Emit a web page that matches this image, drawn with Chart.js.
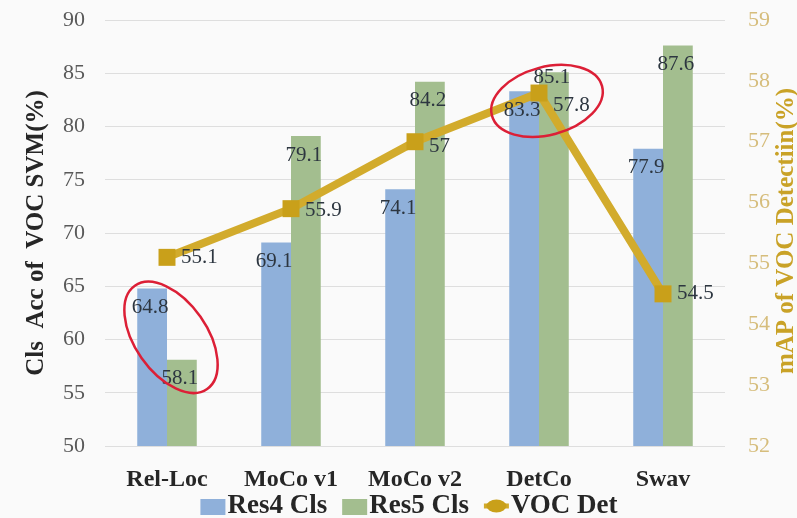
<!DOCTYPE html>
<html>
<head>
<meta charset="utf-8">
<style>
  html, body { margin: 0; padding: 0; background: #fafafa; }
  #wrap { width: 797px; height: 518px; }
</style>
<script src="https://cdn.jsdelivr.net/npm/chart.js@4.4.0/dist/chart.umd.min.js"></script>
</head>
<body>
<div id="wrap"><canvas id="c" width="797" height="518"></canvas></div>
<script>
// Methods and their scores
const categories = ['Rel-Loc', 'MoCo v1', 'MoCo v2', 'DetCo', 'Swav'];
const res4Cls = [64.8, 69.1, 74.1, 83.3, 77.9];   // Cls Acc of VOC SVM (%)
const res5Cls = [58.1, 79.1, 84.2, 85.1, 87.6];   // Cls Acc of VOC SVM (%)
const vocDet  = [55.1, 55.9, 57, 57.8, 54.5];     // mAP of VOC detection (%)

// Axis ranges and tick steps
const leftTicks  = { min: 50, max: 90, step: 5 };
const rightTicks = { min: 52, max: 59, step: 1 };

// Colours
const blue = '#8fb0da';
const green = '#a3be8f';
const gold = '#d2ab2c';
const goldMarker = '#c9a01a';
const serif = '"Liberation Serif", "DejaVu Serif", serif';

// Vertical placement of the value labels (px below the bar top / beside the point)
const res4LabelDrop = [19, 19, 19, 19, 19];
const res5LabelDrop = [19, 19, 19, 5, 19];
const lineLabelDrop = [0, 2, 5, 12, 0];

// Red highlight rings: category index, x nudge, value on left axis, radii, tilt
const rings = [
  { cat: 0, dx: 4, val: 60.2, a: 63, b: 36, tilt: 55 },
  { cat: 3, dx: 8, val: 82.4, a: 57, b: 34, tilt: -15 }
];

const valueLabels = {
  id: 'valueLabels',
  afterDatasetsDraw(chart) {
    const ctx = chart.ctx;
    ctx.save();
    ctx.font = '21px ' + serif;
    ctx.fillStyle = '#2d3640';
    ctx.textBaseline = 'middle';
    ctx.textAlign = 'center';
    [[0, res4LabelDrop], [1, res5LabelDrop]].forEach(([di, drop]) => {
      chart.getDatasetMeta(di).data.forEach((bar, i) => {
        ctx.fillText(String(chart.data.datasets[di].data[i]), bar.x - 2, bar.y + drop[i]);
      });
    });
    ctx.textAlign = 'left';
    chart.getDatasetMeta(2).data.forEach((pt, i) => {
      ctx.fillText(String(chart.data.datasets[2].data[i]), pt.x + 14, pt.y + lineLabelDrop[i]);
    });
    ctx.restore();
  }
};

const highlightRings = {
  id: 'highlightRings',
  afterDraw(chart) {
    const ctx = chart.ctx;
    const xs = chart.scales.x, ys = chart.scales.y;
    ctx.save();
    ctx.strokeStyle = '#dc1f36';
    ctx.lineWidth = 2.5;
    rings.forEach(r => {
      const cx = xs.getPixelForValue(r.cat) + r.dx;
      const cy = ys.getPixelForValue(r.val);
      ctx.beginPath();
      ctx.ellipse(cx, cy, r.a, r.b, r.tilt * Math.PI / 180, 0, Math.PI * 2);
      ctx.stroke();
    });
    ctx.restore();
  }
};

// Right-hand axis title, reading bottom to top like the left one
const rightTitle = {
  id: 'rightTitle',
  afterDraw(chart) {
    const ctx = chart.ctx;
    const area = chart.chartArea;
    ctx.save();
    ctx.translate(787, (area.top + area.bottom) / 2 - 2);
    ctx.rotate(-Math.PI / 2);
    ctx.font = 'bold 25px ' + serif;
    ctx.fillStyle = '#c9a227';
    ctx.textAlign = 'center';
    ctx.textBaseline = 'middle';
    ctx.fillText('mAP of VOC Detectiin(%)', 0, 0);
    ctx.restore();
  }
};

// Single-row legend under the category labels: swatch right next to its text
const legendRow = {
  id: 'legendRow',
  afterDraw(chart) {
    const ctx = chart.ctx;
    const centerX = 409, y = 506;
    const swatchW = 25, swatchH = 16, textGap = 2, itemGap = 15;
    ctx.save();
    ctx.font = 'bold 27px ' + serif;
    ctx.textBaseline = 'middle';
    ctx.textAlign = 'left';
    const items = chart.data.datasets.map(ds => ({
      text: ds.label, color: ds.backgroundColor, isLine: ds.type === 'line'
    }));
    const widths = items.map(it => swatchW + textGap + ctx.measureText(it.text).width);
    const total = widths.reduce((a, b) => a + b, 0) + itemGap * (items.length - 1);
    let x = centerX - total / 2;
    items.forEach((it, i) => {
      if (it.isLine) {
        ctx.strokeStyle = it.color;
        ctx.lineWidth = 5;
        ctx.beginPath();
        ctx.moveTo(x, y);
        ctx.lineTo(x + swatchW, y);
        ctx.stroke();
        ctx.fillStyle = goldMarker;
        ctx.beginPath();
        ctx.ellipse(x + swatchW / 2, y, 10, 6.5, 0, 0, Math.PI * 2);
        ctx.fill();
      } else {
        ctx.fillStyle = it.color;
        ctx.fillRect(x, y - swatchH / 2 + 1, swatchW, swatchH);
      }
      ctx.fillStyle = '#262626';
      ctx.fillText(it.text, x + swatchW + textGap, y);
      x += widths[i] + itemGap;
    });
    ctx.restore();
  }
};

// Vertical axes: fixed width, and no extra top/bottom padding from the tick labels
function fixVertical(width) {
  return s => { s.width = width; s.paddingTop = 0; s.paddingBottom = 0; };
}

new Chart(document.getElementById('c'), {
  data: {
    labels: categories,
    datasets: [
      {
        type: 'bar', label: 'Res4 Cls', data: res4Cls, yAxisID: 'y',
        backgroundColor: blue, borderWidth: 0, order: 1,
        categoryPercentage: 0.48, barPercentage: 1.0
      },
      {
        type: 'bar', label: 'Res5 Cls', data: res5Cls, yAxisID: 'y',
        backgroundColor: green, borderWidth: 0, order: 1,
        categoryPercentage: 0.48, barPercentage: 1.0
      },
      {
        type: 'line', label: 'VOC Det', data: vocDet, yAxisID: 'y1',
        borderColor: gold, backgroundColor: gold, borderWidth: 8, order: 0,
        pointStyle: 'rect', pointRadius: 12, pointHoverRadius: 12,
        pointBackgroundColor: goldMarker, pointBorderWidth: 0, tension: 0
      }
    ]
  },
  options: {
    responsive: false,
    animation: false,
    devicePixelRatio: 1,
    layout: { padding: { top: 20, left: 10, right: 0, bottom: 25 } },
    plugins: {
      tooltip: { enabled: false },
      legend: { display: false }
    },
    scales: {
      x: {
        grid: { display: false },
        border: { display: false },
        ticks: { font: { family: serif, size: 24, weight: 'bold' }, color: '#262626', padding: 11 },
        afterFit(s) { s.height = 47; }
      },
      y: {
        position: 'left',
        min: leftTicks.min, max: leftTicks.max,
        ticks: { stepSize: leftTicks.step, font: { family: serif, size: 22 }, color: '#595959', padding: 20 },
        grid: { color: '#dedede', lineWidth: 1, drawTicks: false },
        border: { display: false },
        title: {
          display: true, text: 'Cls  Acc of  VOC SVM(%)',
          font: { family: serif, size: 25, weight: 'bold' }, color: '#262626',
          padding: { top: 12, bottom: 0 }
        },
        afterFit: fixVertical(95)
      },
      y1: {
        position: 'right',
        min: rightTicks.min, max: rightTicks.max,
        ticks: { stepSize: rightTicks.step, font: { family: serif, size: 22 }, color: '#d6bd7c', padding: 15 },
        grid: { display: false },
        border: { display: false },
        afterFit: fixVertical(72)
      }
    }
  },
  plugins: [valueLabels, highlightRings, rightTitle, legendRow]
});
</script>
</body>
</html>
